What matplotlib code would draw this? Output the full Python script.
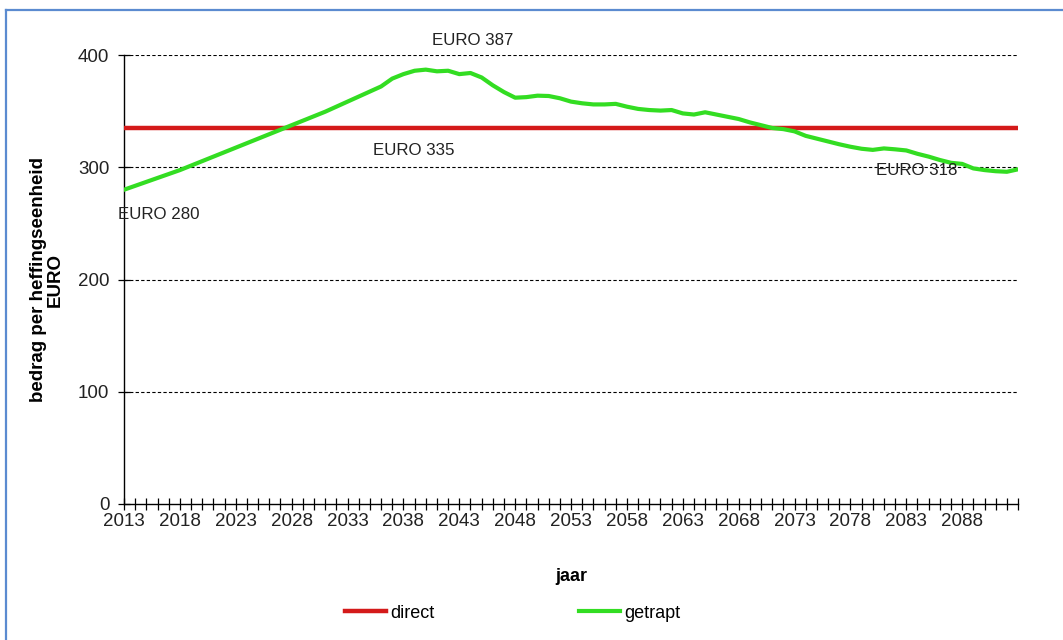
import matplotlib
matplotlib.use("Agg")
import matplotlib.pyplot as plt
from matplotlib.lines import Line2D

plt.rcParams['font.family'] = ['Liberation Sans', 'DejaVu Sans']

years = list(range(2013, 2094))
direct_value = 335
getrapt = [
    280, 283.5, 287, 290.5, 294, 297.5, 301.5, 305.5, 309.5, 313.5,
    317.5, 321.5, 325.5, 329.5, 333.5, 337.5, 341.5, 345.5, 349.5, 354,
    358.5, 363, 367.5, 372, 379, 383, 386, 387, 385.5, 386,
    383, 384, 380, 373, 367, 362, 362.5, 363.8, 363.5, 361.5,
    358.5, 357, 356, 356, 356.5, 354, 352, 351, 350.5, 351,
    348, 347, 349, 347, 345, 343, 340, 337.5, 335, 334,
    332, 328, 325.5, 323, 320.5, 318.3, 316.5, 315.5, 316.8, 316,
    315, 312, 309.5, 306.5, 304, 303, 299, 297.5, 296.5, 296,
    298.2,
]
y_ticks = [0, 100, 200, 300, 400]
label_years = list(range(2013, 2089, 5))

annotations = [
    ("EURO 387", 2044.2, 413, "center"),
    ("EURO 335", 2038.9, 315, "center"),
    ("EURO 280", 2012.5, 258, "left"),
    ("EURO 318", 2080.3, 297.5, "left"),
]

fig = plt.figure(figsize=(10.63, 6.4), dpi=100)
ax = fig.add_axes([0.1167, 0.2125, 0.841, 0.7015])

ax.plot([years[0], years[-1]], [direct_value, direct_value], color="#D41A1A",
        lw=3.2, solid_capstyle="butt", zorder=3)
ax.plot(years, getrapt, color="#33DD22", lw=3.0, solid_joinstyle="round",
        zorder=4)

ax.set_xlim(years[0], years[-1])
ax.set_ylim(0, 400)
ax.set_yticks(y_ticks)
ax.set_xticks(years, minor=True)
ax.set_xticks(label_years)
ax.tick_params(axis="x", which="both", direction="inout", length=9,
               width=0.9, labelsize=13.5, labelcolor="#222222", pad=2)
ax.tick_params(axis="y", direction="inout", length=9, width=0.9,
               labelsize=13.5, labelcolor="#222222", pad=6)

for v in y_ticks[1:]:
    ax.axhline(v, color="black", lw=0.8, ls=(0, (3, 2)), zorder=1)

for side in ("top", "right"):
    ax.spines[side].set_visible(False)
for side in ("left", "bottom"):
    ax.spines[side].set_linewidth(1.0)
    ax.spines[side].set_color("black")

ax.set_xlabel("jaar", fontsize=13, fontweight="bold", labelpad=27)
ax.set_ylabel("bedrag per heffingseenheid\nEURO", fontsize=13.5,
              fontweight="bold", linespacing=1.0)
ax.yaxis.set_label_coords(-0.067, 0.5)

for text, x, y, ha in annotations:
    ax.text(x, y, text, ha=ha, va="center", fontsize=12.2, color="#222222",
            clip_on=False, zorder=5)

handles = [
    Line2D([], [], color="#D41A1A", lw=3.2),
    Line2D([], [], color="#33DD22", lw=3.0),
]
fig.legend(handles, ["direct", "getrapt"], loc="center",
           bbox_to_anchor=(0.482, 0.042), ncol=2, frameon=False,
           fontsize=13, handlelength=2.3, handletextpad=0.2,
           columnspacing=8.0)

# thin blue frame along the top and left edge
fig.add_artist(Line2D([6 / 1063, 1.0], [1 - 10 / 640, 1 - 10 / 640],
                      transform=fig.transFigure, color="#5B8BD0", lw=1.6))
fig.add_artist(Line2D([6 / 1063, 6 / 1063], [0.0, 1 - 10 / 640],
                      transform=fig.transFigure, color="#5B8BD0", lw=1.6))

fig.savefig("out.png", dpi=100)
